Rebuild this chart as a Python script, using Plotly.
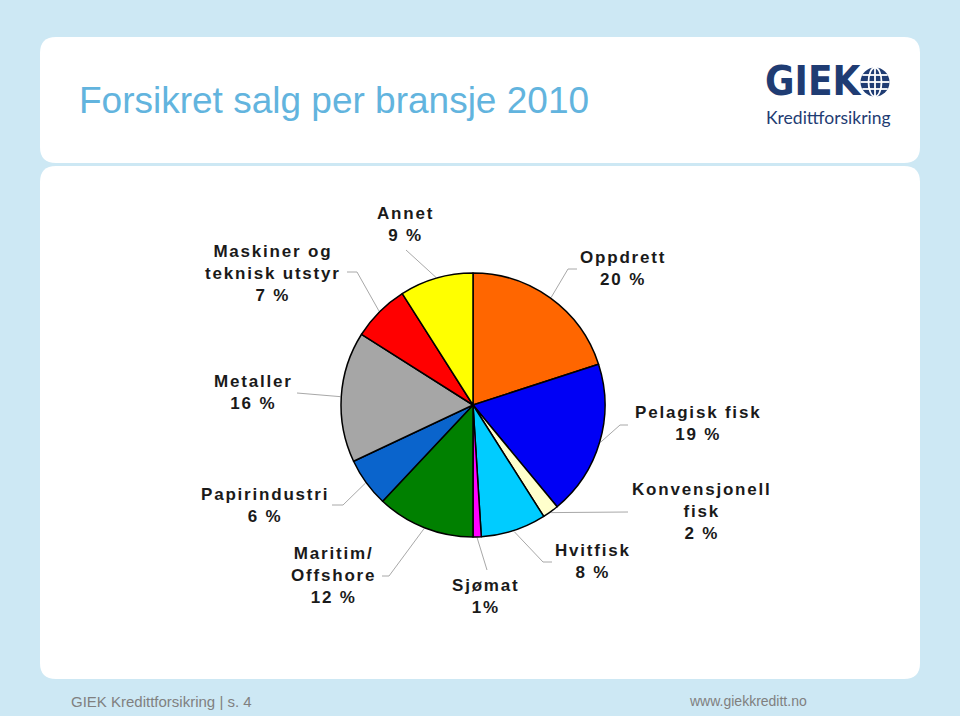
import math
import plotly.graph_objects as go

# ---------------- data ----------------
categories = ["Oppdrett", "Pelagisk fisk", "Konvensjonell fisk", "Hvitfisk", "Sjømat",
              "Maritim/Offshore", "Papirindustri", "Metaller", "Maskiner og teknisk utstyr", "Annet"]
values = [20, 19, 2, 8, 1, 12, 6, 16, 7, 9]
label_names = ["Oppdrett", "Pelagisk fisk", "Konvensjonell<br>fisk", "Hvitfisk", "Sjømat",
               "Maritim/<br>Offshore", "Papirindustri", "Metaller", "Maskiner og<br>teknisk utstyr", "Annet"]
pct_labels = ["20 %", "19 %", "2 %", "8 %", "1%", "12 %", "6 %", "16 %", "7 %", "9 %"]

# ---------------- styles / layout ----------------
colors = ["#FF6600", "#0000F5", "#FFFFCC", "#00CCFF", "#FF00FF",
          "#008000", "#0A64CC", "#A6A6A6", "#FF0000", "#FFFF00"]
W, H = 960, 716
CX, CY, R = 473, 405, 132
BG = "#CDE8F4"
NAVY = "#1F3C73"

# label centres (pixels) and leader-line elbow points
label_pos = [(623, 268), (698, 423), (702, 511), (593, 561), (485, 596),
             (333, 575), (265, 505), (253, 392), (273, 273), (405, 224)]
leader_elbows = [[(568, 269), (577, 269)],
                 [(620, 425), (628, 425)],
                 [(628, 512)],
                 [(543, 562), (552, 562)],
                 [(487, 570)],
                 [(389, 576), (382, 576)],
                 [(343, 505), (332, 505)],
                 [(297, 393)],
                 [(357, 272), (347, 272)],
                 [(406, 250)]]

total = sum(values)
lx, ly = [], []
cum = 0
for v, elb in zip(values, leader_elbows):
    th = 2 * math.pi * (cum + v / 2) / total
    cum += v
    sx = CX + (R + 1) * math.sin(th)
    sy = CY - (R + 1) * math.cos(th)
    pts = [(sx, sy)] + elb
    lx += [p[0] for p in pts] + [None]
    ly += [p[1] for p in pts] + [None]

fig = go.Figure()

fig.add_trace(go.Scatter(x=lx, y=ly, mode="lines", line=dict(color="#A8A8A8", width=1),
                         hoverinfo="skip", showlegend=False))

fig.add_trace(go.Pie(
    labels=categories, values=values, sort=False, direction="clockwise", rotation=0,
    marker=dict(colors=colors, line=dict(color="black", width=1.5)),
    textinfo="none", showlegend=False,
    domain=dict(x=[(CX - R) / W, (CX + R) / W], y=[1 - (CY + R) / H, 1 - (CY - R) / H]),
))


def rrect(x0, y0, x1, y1, r):
    return (f"M{x0 + r},{y0} L{x1 - r},{y0} Q{x1},{y0} {x1},{y0 + r} "
            f"L{x1},{y1 - r} Q{x1},{y1} {x1 - r},{y1} L{x0 + r},{y1} "
            f"Q{x0},{y1} {x0},{y1 - r} L{x0},{y0 + r} Q{x0},{y0} {x0 + r},{y0} Z")


shapes = [
    dict(type="path", path=rrect(40, 37, 920, 163, 16), xref="x", yref="y",
         fillcolor="white", line=dict(width=0), layer="below"),
    dict(type="path", path=rrect(40, 166, 920, 679, 16), xref="x", yref="y",
         fillcolor="white", line=dict(width=0), layer="below"),
]
# globe of the logo
gx, gy, gr = 875, 82, 14.5
shapes.append(dict(type="circle", x0=gx - gr, x1=gx + gr, y0=gy - gr, y1=gy + gr, xref="x", yref="y",
                   fillcolor=NAVY, line=dict(width=0)))
shapes.append(dict(type="circle", x0=gx - 6.5, x1=gx + 6.5, y0=gy - gr, y1=gy + gr, xref="x", yref="y",
                   fillcolor="rgba(0,0,0,0)", line=dict(color="white", width=1.8)))
shapes.append(dict(type="line", x0=gx, x1=gx, y0=gy - gr, y1=gy + gr, xref="x", yref="y",
                   line=dict(color="white", width=1.8)))
for dy in (-7, 0, 7):
    half = math.sqrt(gr * gr - dy * dy)
    shapes.append(dict(type="line", x0=gx - half, x1=gx + half, y0=gy + dy, y1=gy + dy,
                       xref="x", yref="y", line=dict(color="white", width=1.8)))

annotations = []
LAB_FONT = dict(family="Liberation Sans, Arial, sans-serif", size=17, color="#1A1A1A")
for name, pct, (px, py) in zip(label_names, pct_labels, label_pos):
    txt = f'<span style="letter-spacing:1.8px"><b>{name}<br>{pct}</b></span>'
    annotations.append(dict(x=px, y=py, xref="x", yref="y", text=txt, showarrow=False,
                            align="center", xanchor="center", yanchor="middle", font=LAB_FONT))

annotations.append(dict(x=77, y=100, xref="x", yref="y", text="Forsikret salg per bransje 2010",
                        showarrow=False, xanchor="left", yanchor="middle",
                        font=dict(family="Liberation Sans, Arial, sans-serif", size=37, color="#62B4DE")))
annotations.append(dict(x=813, y=81, xref="x", yref="y", text="<b>GIEK</b>", showarrow=False,
                        xanchor="center", yanchor="middle",
                        font=dict(family="Liberation Sans Narrow, DejaVu Sans Condensed, sans-serif",
                                  size=40, color=NAVY)))
annotations.append(dict(x=828, y=117, xref="x", yref="y", text="Kredittforsikring", showarrow=False,
                        xanchor="center", yanchor="middle",
                        font=dict(family="Lato, sans-serif", size=17.5, color=NAVY)))
annotations.append(dict(x=69, y=701, xref="x", yref="y", text="GIEK Kredittforsikring | s. 4",
                        showarrow=False, xanchor="left", yanchor="middle",
                        font=dict(family="Liberation Sans Narrow, Liberation Sans, sans-serif",
                                  size=15, color="#808080")))
annotations.append(dict(x=809, y=701, xref="x", yref="y", text="www.giekkreditt.no",
                        showarrow=False, xanchor="right", yanchor="middle",
                        font=dict(family="Liberation Sans Narrow, Liberation Sans, sans-serif",
                                  size=14, color="#808080")))

fig.update_layout(
    width=W, height=H, margin=dict(l=0, r=0, t=0, b=0),
    paper_bgcolor=BG, plot_bgcolor="rgba(0,0,0,0)",
    xaxis=dict(range=[0, W], visible=False, fixedrange=True, domain=[0, 1]),
    yaxis=dict(range=[H, 0], visible=False, fixedrange=True, domain=[0, 1]),
    shapes=shapes, annotations=annotations, showlegend=False,
)

fig.write_html("out.html")
